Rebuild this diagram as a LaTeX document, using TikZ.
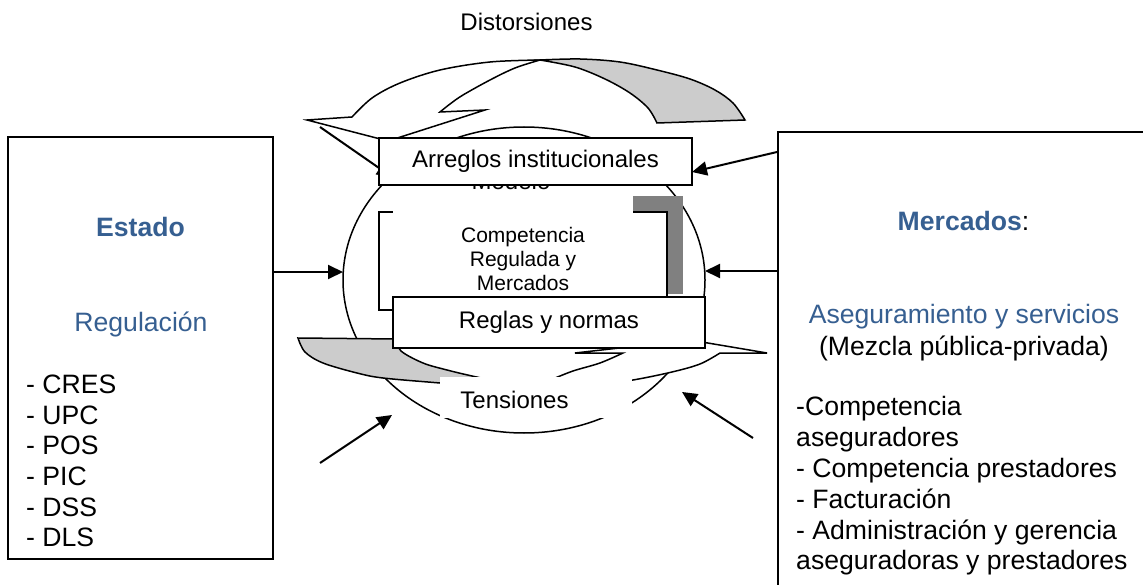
\documentclass[tikz,border=0pt]{standalone}
\usepackage{fontspec}
\setmainfont{Liberation Sans}
\usetikzlibrary{arrows.meta,shapes.geometric}
\definecolor{titleblue}{RGB}{54,95,145}
\definecolor{ribbongrey}{RGB}{204,204,204}
\definecolor{shadowgrey}{RGB}{128,128,128}

\begin{document}
\begin{tikzpicture}[x=1pt,y=-1pt,
  outline/.style={draw=black,line width=1.5pt,line join=miter},
  sidebox/.style={draw=black,line width=2pt,fill=white,inner sep=0pt},
  tagbox/.style={draw=black,line width=1.8pt,fill=white,inner sep=0pt},
  link/.style={draw=black,line width=2pt,-{Triangle[length=15pt,width=14pt]}},
  bigtext/.style={font=\fontsize{26.6}{30.6}\selectfont,inner sep=0pt},
  midtext/.style={font=\fontsize{24}{28}\selectfont,inner sep=0pt},
  smalltext/.style={font=\fontsize{21}{24}\selectfont,inner sep=0pt},
]
\useasboundingbox (0,0) rectangle (1143,585);
\clip (0,0) rectangle (1143,585);
\fill[white] (0,0) rectangle (1143,585);

% the model: ellipse in the middle
\node[ellipse,draw=black,line width=1.5pt,fill=white,minimum width=362pt,minimum height=306pt,inner sep=0pt] (ring) at (524,280) {};

% inner box with its shadow
\fill[shadowgrey] (395,196) rectangle (683,294);
\node[draw=black,line width=1.8pt,fill=white,minimum width=288pt,minimum height=98pt,inner sep=0pt] (comp) at (523,261) {};
\node[smalltext,align=center] (comptext) at (523,259) {Competencia\\Regulada y\\Mercados};

% title box of the model
\node[fill=white,minimum width=240pt,minimum height=66pt,inner sep=0pt] (modelobox) at (513,183) {};
\node[midtext] (modelo) at (511,181) {Modelo};

% upper ribbon (Distorsiones)
\filldraw[outline,fill=white]
  (307,120) -- (352,117)
  -- plot[smooth,tension=0.55] coordinates {(352,117) (372,98) (400,83) (440,70) (490,62) (540,60)}
  -- plot[smooth,tension=0.55] coordinates {(540,60) (515,68) (490,80) (463,95) (450,104) (440,112)}
  -- (485,110) -- (388,141) -- cycle;
\filldraw[outline,fill=ribbongrey]
  plot[smooth,tension=0.55] coordinates {(540,60) (580,59) (620,62) (657,70) (690,79) (715,90) (733,103) (745,120)}
  -- (657,123)
  -- plot[smooth,tension=0.55] coordinates {(657,123) (648,108) (630,93) (605,79) (575,67) (540,60)}
  -- cycle;

% lower ribbon (Tensiones)
\filldraw[outline,fill=ribbongrey]
  (298,338) -- (396,339)
  -- plot[smooth,tension=0.55] coordinates {(396,339) (401,351) (423,363) (447,370) (472,376) (500,382) (527,388)}
  -- plot[smooth,tension=0.55] coordinates {(527,388) (490,387) (440,383) (383,378) (357,373) (323,363) (305,352) (298,338)}
  -- cycle;
\filldraw[outline,fill=white]
  plot[smooth,tension=0.55] coordinates {(527,388) (565,387) (600,384) (633,380) (672,372) (700,364) (720,353)}
  -- (767,353) -- (690,340) -- (575,353) -- (623,353)
  -- plot[smooth,tension=0.55] coordinates {(623,353) (600,363) (573,371) (550,380) (527,388)}
  -- cycle;

% side boxes
\node[sidebox,minimum width=265pt,minimum height=422pt] (estado) at (140.5,348) {};
\node[sidebox,anchor=north west,minimum width=420pt,minimum height=520pt] (mercados) at (777,131) {};

% arrow end points
\coordinate (ringW) at (343,272);
\coordinate (ringE) at (705,271);
\coordinate (arrE) at (692,172);
\coordinate (mkTop) at (777,152);
\coordinate (tlS) at (320,127);
\coordinate (tlE) at (392,177);
\coordinate (blS) at (320,463);
\coordinate (blE) at (392,415);
\coordinate (brS) at (753,438);
\coordinate (brE) at (682,392);

\draw[link] (tlS) -- (tlE);
\draw[link] (estado.east |- ringW) -- (ringW);
\draw[link] (mercados.west |- ringE) -- (ringE);
\draw[link] (mkTop) -- (arrE);
\draw[link] (blS) -- (blE);
\draw[link] (brS) -- (brE);

% labelled boxes over the model
\node[tagbox,minimum width=313pt,minimum height=47pt,midtext] (arreglos) at (535.5,161.5) {Arreglos institucionales};
\node[tagbox,minimum width=312pt,minimum height=51pt,midtext] (reglas) at (549,322.5) {Reglas y normas};
\node[fill=white,minimum width=192pt,minimum height=41pt,inner sep=0pt] (tensbox) at (536,397.5) {};
\node[midtext] (tensiones) at (514.5,400) {Tensiones};
\node[midtext] (distorsiones) at (526.5,22) {Distorsiones};

% left box contents
\node[bigtext,text=titleblue,font=\fontsize{26.6}{30.6}\selectfont\bfseries] (estadot) at (140.5,227) {Estado};
\node[bigtext,text=titleblue] (regulacion) at (141,324) {Regulación};
\node[bigtext,anchor=west,align=left] (listaE) at (26,461) {- CRES\\- UPC\\- POS\\- PIC\\- DSS\\- DLS};

% right box contents
\node[bigtext] (mercadost) at (963.5,221) {\textcolor{titleblue}{\bfseries Mercados}:};
\node[bigtext,text=titleblue] (asegur) at (964,317) {Aseguramiento y servicios};
\node[bigtext] (mezcla) at (964,348) {(Mezcla pública-privada)};
\node[bigtext,anchor=west,align=left,font=\fontsize{26.6}{30.8}\selectfont] (listaM) at (796,486) {-Competencia\\aseguradores\\- Competencia prestadores\\- Facturación\\- Administración y gerencia\\aseguradoras y prestadores};
\end{tikzpicture}
\end{document}
